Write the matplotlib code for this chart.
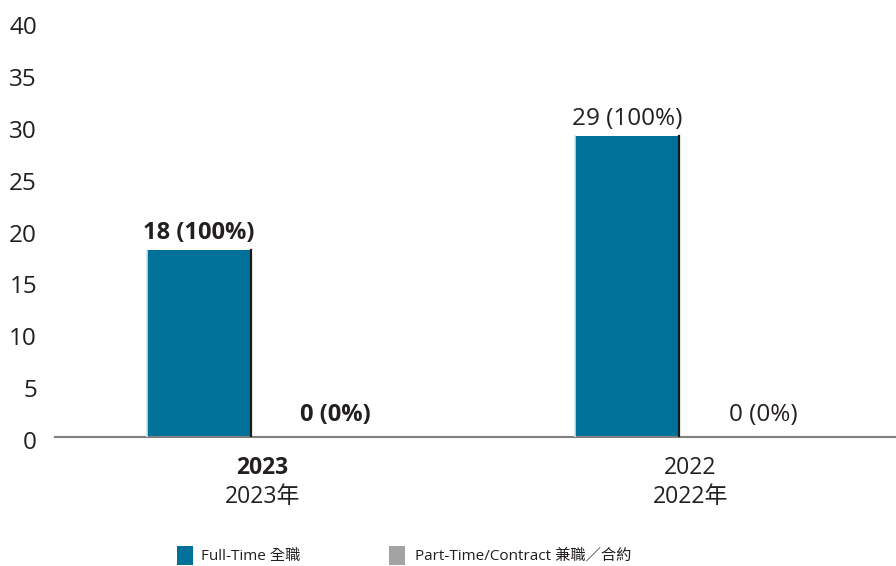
import matplotlib
matplotlib.use("Agg")
import matplotlib.pyplot as plt
from matplotlib.patches import Rectangle
import matplotlib.transforms as mtransforms

plt.rcParams['font.family'] = ['Open Sans', 'Noto Sans CJK TC', 'DejaVu Sans']

categories_en = ["2023", "2022"]
categories_zh = ["2023年", "2022年"]
series_names = ["Full-Time 全職", "Part-Time/Contract 兼職／合約"]
full_time = [18, 29]
part_time = [0, 0]
full_time_labels = ["18 (100%)", "29 (100%)"]
part_time_labels = ["0 (0%)", "0 (0%)"]
bold_category = [True, False]
y_ticks = [0, 5, 10, 15, 20, 25, 30, 35, 40]

text_color = "#231f20"
c_full = "#00729a"
c_part = "#a3a3a6"

fig = plt.figure(figsize=(8.96, 5.66), dpi=100)
ax = fig.add_axes([55/896, 1-437/566, 1-55/896, (437-22)/566])

x = list(range(len(categories_en)))
w = 0.243
off = 0.147
b1 = ax.bar([i - off for i in x], full_time, width=w, color=c_full, zorder=2)
b2 = ax.bar([i + off for i in x], part_time, width=w, color=c_part, zorder=2)

# subtle bevel edges on bars
for p in b1.patches:
    x0, y0 = p.get_x(), p.get_y()
    ax.plot([x0 + p.get_width()] * 2, [y0, y0 + p.get_height()], color="#1a1a1a", lw=1.6, zorder=3)
    ax.plot([x0] * 2, [y0, y0 + p.get_height()], color="#cfe3ea", lw=1.2, zorder=3)

for i in x:
    wt = "bold" if bold_category[i] else "normal"
    fs = 17 if bold_category[i] else 17.5
    ax.text(i - off, full_time[i] + 0.5, full_time_labels[i], ha="center", va="bottom",
            fontsize=fs, fontweight=wt, color=text_color)
    ax.text(i + off + 0.025, part_time[i] + 1.0, part_time_labels[i], ha="center", va="bottom",
            fontsize=fs, fontweight=wt, color=text_color)

ax.set_xlim(-0.484, 1.481)
ax.set_ylim(0, 40)
ax.set_yticks(y_ticks)
ax.set_yticklabels([str(t) for t in y_ticks], fontsize=17.5, color=text_color)
ax.tick_params(axis="y", length=0, pad=13)
shift = mtransforms.ScaledTranslation(0, -3/100, fig.dpi_scale_trans)
for lab in ax.get_yticklabels():
    lab.set_transform(lab.get_transform() + shift)
ax.set_xticks([])
for s in ["top", "right", "left"]:
    ax.spines[s].set_visible(False)
ax.spines["bottom"].set_color("#808080")
ax.spines["bottom"].set_linewidth(1.5)

trans = mtransforms.blended_transform_factory(ax.transData, fig.transFigure)
for i in x:
    wt = "bold" if bold_category[i] else "normal"
    ax.text(i, 1 - 468/566, categories_en[i], transform=trans, ha="center", va="center",
            fontsize=16.5, fontweight=wt, color=text_color)
    ax.text(i, 1 - 497/566, categories_zh[i], transform=trans, ha="center", va="center",
            fontsize=16.5, color=text_color)

# legend
leg_y = 1 - 556/566
for xs, xt, col, name in [(177, 201, c_full, series_names[0]), (389, 415, c_part, series_names[1])]:
    fig.patches.append(Rectangle((xs/896, 1 - 565/566), 16/896, 19/566, transform=fig.transFigure,
                                 facecolor=col, edgecolor="none"))
    fig.text(xt/896, leg_y, name, ha="left", va="center", fontsize=11, color=text_color)

fig.savefig("out.png", dpi=100, facecolor="white")
